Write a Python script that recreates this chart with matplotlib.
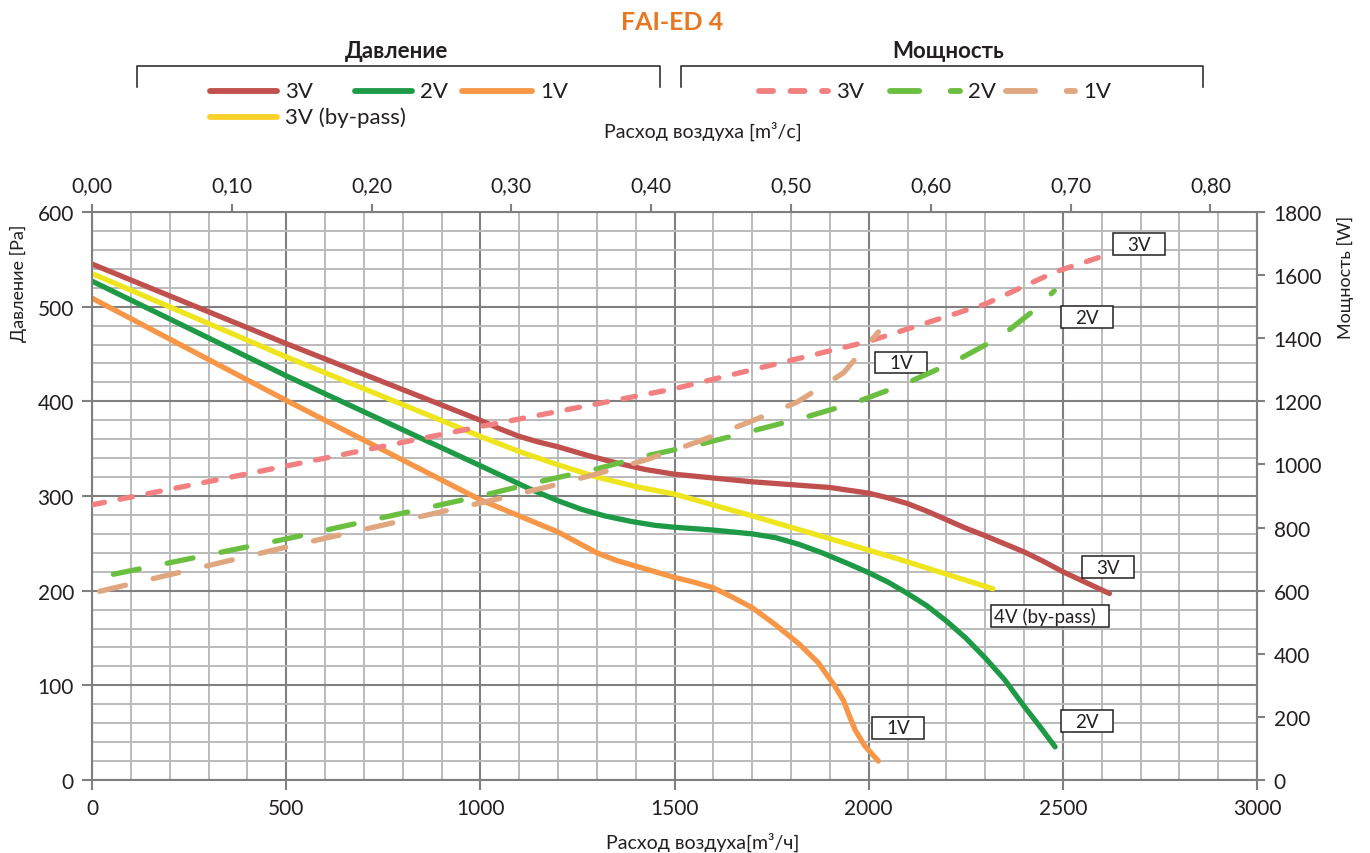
import numpy as np
import matplotlib
matplotlib.use('Agg')
import matplotlib.pyplot as plt
from matplotlib.lines import Line2D
from matplotlib.patches import Rectangle
from matplotlib.ticker import MultipleLocator, FuncFormatter

plt.rcParams['font.family'] = ['Lato', 'DejaVu Sans']
TXT = '#231F20'

# pressure curves [m3/h -> Pa]
q_3v = [0, 500, 1000, 1050, 1100, 1150, 1200, 1275, 1350, 1425, 1500, 1600, 1700, 1800, 1900,
        2000, 2050, 2100, 2150, 2200, 2250, 2300, 2400, 2450, 2500, 2620]
p_3v = [545, 461, 380, 371, 363, 357, 352, 343, 335, 328, 323, 319, 315, 312, 309,
        303, 298, 292, 284, 275, 266, 258, 241, 231, 220, 197]

q_2v = [0, 500, 1000, 1130, 1200, 1260, 1320, 1390, 1450, 1500, 1600, 1700, 1760, 1820,
        1880, 1950, 2000, 2050, 2100, 2150, 2200, 2250, 2300, 2350, 2400, 2440, 2480]
p_2v = [527, 427, 332, 307, 295, 286, 279, 273, 269, 267, 264, 260, 256, 249,
        240, 228, 219, 209, 197, 184, 168, 150, 129, 106, 78, 57, 35]

q_1v = [0, 500, 1000, 1100, 1200, 1300, 1350, 1400, 1450, 1500, 1550, 1600, 1650, 1700,
        1760, 1820, 1870, 1910, 1935, 1950, 1965, 1990, 2025]
p_1v = [509, 401, 296, 279, 262, 240, 232, 226, 220, 214, 209, 203, 193, 182,
        164, 144, 124, 101, 84, 68, 53, 36, 20]

q_bp = [0, 500, 1000, 1100, 1200, 1300, 1400, 1500, 1700, 1900, 2080, 2320]
p_bp = [535, 447, 363, 347, 333, 320, 310, 302, 279, 255, 233, 202]

# power curves [m3/h -> W]
qw_3v = [0, 500, 1000, 1500, 2000, 2300, 2480, 2620]
w_3v = [872, 995, 1120, 1240, 1390, 1508, 1610, 1667]

qw_2v = [55, 500, 1000, 1165, 1300, 1430, 1570, 1700, 1835, 1965, 2095, 2220, 2340, 2420, 2478]
w_2v = [652, 764, 900, 949, 986, 1028, 1065, 1106, 1149, 1196, 1256, 1325, 1405, 1483, 1550]

qw_1v = [20, 500, 1025, 1170, 1300, 1430, 1560, 1690, 1815, 1935, 2025]
w_1v = [598, 738, 885, 928, 970, 1016, 1072, 1133, 1197, 1290, 1420]

C_3V, C_2V, C_1V, C_BP = '#C0504D', '#1E9A46', '#F79646', '#EEE51E'
C_W3, C_W2, C_W1 = '#F28080', '#6ABF40', '#DFA67F'

fig = plt.figure(figsize=(13.7, 8.54), dpi=100)
ax = fig.add_axes([92 / 1370, 73 / 854, 1165 / 1370, 568 / 854])

ax.set_xlim(0, 3000)
ax.set_ylim(0, 600)
ax.xaxis.set_major_locator(MultipleLocator(500))
ax.xaxis.set_minor_locator(MultipleLocator(100))
ax.yaxis.set_major_locator(MultipleLocator(100))
ax.yaxis.set_minor_locator(MultipleLocator(20))
ax.grid(which='minor', color='#BBBBBB', lw=1.4)
ax.grid(which='major', color='#808080', lw=1.5)
ax.set_axisbelow(True)
ax.tick_params(which='minor', length=0)
ax.tick_params(which='major', length=7, width=1.5, color='#808080',
               labelsize=15, labelcolor=TXT, pad=6)
for s in ax.spines.values():
    s.set_color('#808080')
    s.set_linewidth(1.5)

lw = 3.8
ax.plot(q_3v, p_3v, color=C_3V, lw=lw, solid_capstyle='round', solid_joinstyle='round')
ax.plot(q_bp, p_bp, color=C_BP, lw=lw, solid_capstyle='round', solid_joinstyle='round')
ax.plot(q_2v, p_2v, color=C_2V, lw=lw, solid_capstyle='round', solid_joinstyle='round')
ax.plot(q_1v, p_1v, color=C_1V, lw=lw, solid_capstyle='round', solid_joinstyle='round')

# power on the right axis
axw = ax.twinx()
axw.set_ylim(0, 1800)
axw.yaxis.set_major_locator(MultipleLocator(200))
axw.tick_params(length=6, width=1.5, color='#808080', labelsize=15, labelcolor=TXT, pad=6)
for s in axw.spines.values():
    s.set_visible(False)
axw.plot(qw_3v, w_3v, color=C_W3, lw=lw, dashes=(2.4, 3.0), dash_capstyle='round')
axw.plot(qw_2v, w_2v, color=C_W2, lw=lw, dashes=(5.0, 5.4), dash_capstyle='round')
axw.plot(qw_1v, w_1v, color=C_W1, lw=lw, dashes=(5.0, 5.4), dash_capstyle='round')

# airflow in m3/s on top
axt = ax.twiny()
axt.set_xlim(0, 3000 / 3600)
axt.xaxis.set_major_locator(MultipleLocator(0.1))
axt.xaxis.set_major_formatter(FuncFormatter(lambda v, _: f'{v:.2f}'.replace('.', ',')))
axt.tick_params(length=6, width=1.5, color='#808080', labelsize=15, labelcolor=TXT, pad=6)
for s in axt.spines.values():
    s.set_visible(False)


def tag(x, y, text, w=134, left=None):
    # label box in pressure-axis units, w in m3/h
    h = 23
    ax.add_patch(Rectangle((x - w / 2, y - h / 2), w, h, facecolor='white',
                           edgecolor='#231F20', lw=1.1, zorder=5))
    if left is None:
        ax.text(x, y, text, ha='center', va='center', fontsize=13.5, color=TXT, zorder=6)
    else:
        ax.text(left, y, text, ha='left', va='center', fontsize=13.5, color=TXT, zorder=6)


tag(2696, 566, '3V')
tag(2562, 489, '2V')
tag(2083, 441, '1V')
tag(2617, 225, '3V')
tag(2467, 173, '4V (by-pass)', w=306, left=2322)
tag(2562, 62, '2V')
tag(2076, 55, '1V')

# titles, brackets and legends
fig.text(672 / 1370, 1 - 22 / 854, 'FAI-ED 4', ha='center', va='center',
         fontsize=18, fontweight='bold', color='#E87722')
fig.text(397 / 1370, 1 - 52 / 854, 'Давление', ha='center', va='center',
         fontsize=16, fontweight='bold', color=TXT)
fig.text(948 / 1370, 1 - 52 / 854, 'Мощность', ha='center', va='center',
         fontsize=16, fontweight='bold', color=TXT)


def fx(px):
    return px / 1370


def fy(py):
    return 1 - py / 854


for x0, x1 in [(137, 660), (681, 1203)]:
    fig.add_artist(Line2D([fx(x0), fx(x0), fx(x1), fx(x1)],
                          [fy(88), fy(67), fy(67), fy(88)], color='#231F20', lw=1.1))

legend_items = [
    (210, 277, 92, C_3V, None, '3V'),
    (355, 412, 92, C_2V, None, '2V'),
    (462, 532, 92, C_1V, None, '1V'),
    (210, 277, 118, '#FDD12A', None, '3V (by-pass)'),
    (759, 828, 92, C_W3, (2.4, 3.0), '3V'),
    (890, 960, 92, C_W2, (5.0, 5.4), '2V'),
    (1006, 1075, 92, C_W1, (5.0, 5.4), '1V'),
]
for x0, x1, y, col, dash, label in legend_items:
    kw = dict(dashes=dash, dash_capstyle='round') if dash else dict(solid_capstyle='round')
    fig.add_artist(Line2D([fx(x0), fx(x1)], [fy(y), fy(y)], color=col, lw=4.2, **kw))
    fig.text(fx(x1 + 8), fy(y), label, ha='left', va='center', fontsize=16, color=TXT)

fig.text(703 / 1370, fy(131), 'Расход воздуха [m³/c]', ha='center', va='center',
         fontsize=14, color=TXT)
fig.text(703 / 1370, fy(842), 'Расход воздуха[m³/ч]', ha='center', va='center',
         fontsize=14, color=TXT)
fig.text(fx(18), fy(283), 'Давление [Pa]', ha='center', va='center', rotation=90,
         fontsize=13, color=TXT)
fig.text(fx(1345), fy(277), 'Мощность [W]', ha='center', va='center', rotation=90,
         fontsize=13, color=TXT)

fig.savefig('out.png', dpi=100)
